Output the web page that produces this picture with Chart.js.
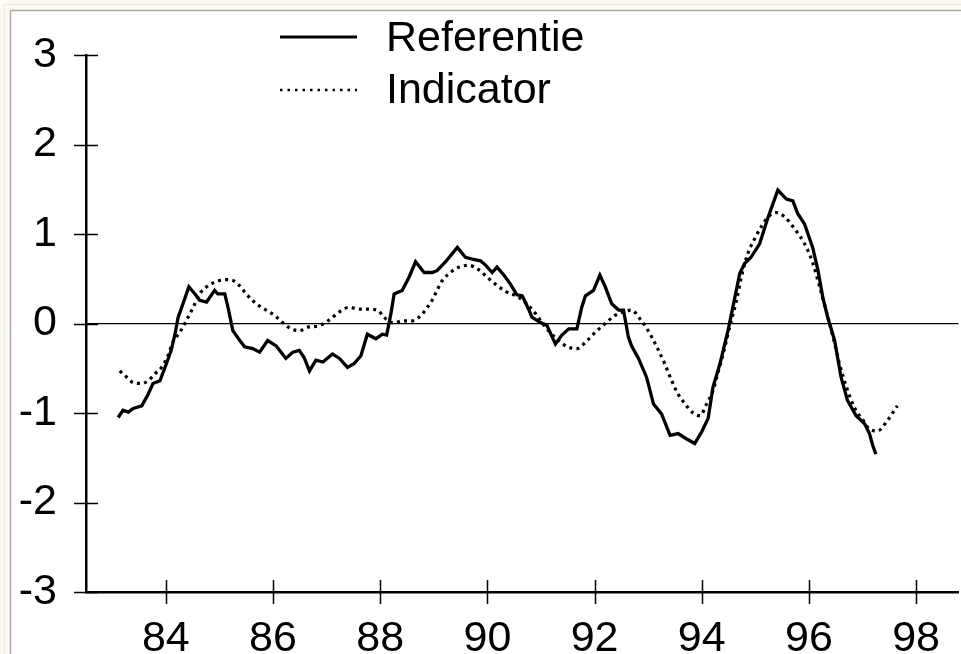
<!DOCTYPE html>
<html>
<head>
<meta charset="utf-8">
<script src="https://cdn.jsdelivr.net/npm/chart.js@4.4.1/dist/chart.umd.min.js"></script>
<style>
    html, body { margin: 0; padding: 0; background: #fff; }
    #wrap { width: 961px; height: 654px; }
</style>
</head>
<body>
<div id="wrap"><canvas id="chart" width="961" height="654"></canvas></div>
<script>
// Referentie (jaar, waarde)
const refYears = [83.11, 83.20, 83.30, 83.39, 83.55, 83.67, 83.76, 83.89, 84.01, 84.10, 84.17, 84.23, 84.32, 84.43, 84.57, 84.63, 84.76, 84.91, 84.97, 85.10,
    85.16, 85.25, 85.38, 85.47, 85.62, 85.75, 85.90, 86.06, 86.24, 86.37, 86.49, 86.58, 86.68, 86.80, 86.93, 87.11, 87.24, 87.39, 87.51, 87.64,
    87.76, 87.92, 88.04, 88.12, 88.20, 88.26, 88.41, 88.54, 88.66, 88.82, 88.97, 89.06, 89.22, 89.44, 89.59, 89.72, 89.87, 89.97, 90.09, 90.18,
    90.31, 90.43, 90.55, 90.65, 90.77, 90.83, 90.99, 91.11, 91.27, 91.39, 91.52, 91.67, 91.76, 91.83, 91.98, 92.10, 92.20, 92.32, 92.45, 92.54,
    92.63, 92.69, 92.82, 92.97, 93.10, 93.25, 93.41, 93.56, 93.72, 93.87, 94.00, 94.12, 94.21, 94.34, 94.49, 94.58, 94.71, 94.80, 94.92, 95.08,
    95.24, 95.33, 95.42, 95.58, 95.70, 95.79, 95.92, 96.07, 96.17, 96.26, 96.35, 96.48, 96.60, 96.72, 96.88, 97.04, 97.13, 97.19, 97.25];
const refValues = [-1.05, -0.97, -0.99, -0.95, -0.92, -0.79, -0.67, -0.64, -0.45, -0.30, -0.12, 0.07, 0.22, 0.41, 0.31, 0.26, 0.24, 0.37, 0.33, 0.33,
    0.18, -0.08, -0.19, -0.26, -0.28, -0.32, -0.19, -0.25, -0.39, -0.32, -0.30, -0.38, -0.53, -0.41, -0.43, -0.34, -0.39, -0.49, -0.45, -0.36,
    -0.12, -0.17, -0.12, -0.13, 0.11, 0.33, 0.37, 0.52, 0.69, 0.57, 0.57, 0.59, 0.69, 0.85, 0.74, 0.72, 0.70, 0.65, 0.57, 0.63,
    0.54, 0.44, 0.32, 0.31, 0.16, 0.07, 0.01, -0.02, -0.23, -0.13, -0.06, -0.06, 0.18, 0.31, 0.37, 0.54, 0.41, 0.22, 0.15, 0.15,
    -0.15, -0.25, -0.39, -0.60, -0.90, -1.01, -1.25, -1.23, -1.29, -1.34, -1.21, -1.06, -0.71, -0.45, -0.08, 0.18, 0.56, 0.67, 0.74, 0.89,
    1.19, 1.34, 1.49, 1.39, 1.37, 1.23, 1.11, 0.85, 0.59, 0.29, 0.07, -0.19, -0.60, -0.86, -1.03, -1.12, -1.23, -1.36, -1.46];

// Indicator (jaar, waarde)
const indYears = [83.14, 83.27, 83.39, 83.55, 83.67, 83.80, 83.92, 84.04, 84.13, 84.26, 84.38, 84.51, 84.63, 84.76, 84.91, 85.10, 85.25, 85.38, 85.50, 85.69,
    85.87, 86.03, 86.18, 86.34, 86.49, 86.65, 86.83, 87.05, 87.24, 87.42, 87.61, 87.79, 87.95, 88.07, 88.23, 88.45, 88.60, 88.76, 88.88, 88.97,
    89.06, 89.16, 89.31, 89.47, 89.65, 89.84, 89.99, 90.15, 90.34, 90.59, 90.77, 90.90, 91.02, 91.14, 91.33, 91.49, 91.67, 91.83, 92.01, 92.20,
    92.38, 92.54, 92.69, 92.85, 93.00, 93.16, 93.31, 93.44, 93.56, 93.69, 93.84, 93.97, 94.09, 94.21, 94.28, 94.40, 94.52, 94.65, 94.74, 94.86,
    94.99, 95.11, 95.24, 95.38, 95.55, 95.73, 95.92, 96.07, 96.20, 96.32, 96.45, 96.57, 96.70, 96.85, 97.01, 97.13, 97.28, 97.47, 97.65];
const indValues = [-0.53, -0.60, -0.66, -0.67, -0.64, -0.56, -0.49, -0.36, -0.21, -0.10, 0.03, 0.18, 0.33, 0.41, 0.46, 0.49, 0.48, 0.42, 0.33, 0.22,
    0.15, 0.09, 0.01, -0.06, -0.08, -0.04, -0.03, 0.04, 0.13, 0.18, 0.16, 0.16, 0.15, 0.07, 0.01, 0.03, 0.03, 0.09, 0.18, 0.26,
    0.37, 0.48, 0.57, 0.63, 0.65, 0.60, 0.52, 0.44, 0.36, 0.29, 0.20, 0.11, 0.01, -0.08, -0.19, -0.26, -0.28, -0.21, -0.10, 0.00,
    0.09, 0.13, 0.15, 0.05, -0.08, -0.26, -0.45, -0.64, -0.79, -0.90, -1.00, -1.03, -0.90, -0.75, -0.60, -0.34, -0.04, 0.26, 0.52, 0.78,
    0.95, 1.08, 1.19, 1.24, 1.19, 1.06, 0.89, 0.68, 0.41, 0.15, -0.15, -0.45, -0.71, -0.94, -1.08, -1.18, -1.20, -1.08, -0.92];

const xTicks = [84, 86, 88, 90, 92, 94, 96, 98];
const yTicks = [-3, -2, -1, 0, 1, 2, 3];
const seriesNames = ['Referentie', 'Indicator'];

const FONT = '"Liberation Sans", Arial, Helvetica, sans-serif';

function toPoints(xs, ys) {
    return xs.map(function(x, i) { return { x: x, y: ys[i] }; });
}

// frame, tick marks and legend
const extras = {
    id: 'extras',
    beforeDraw: function(chart) {
        const ctx = chart.ctx;
        ctx.save();
        ctx.fillStyle = '#fbfaf5';
        ctx.fillRect(0, 0, chart.width, chart.height);
        ctx.fillStyle = '#ffffff';
        ctx.fillRect(11, 11, chart.width - 11, chart.height - 11);
        ctx.strokeStyle = '#efe8d3';
        ctx.lineWidth = 1;
        ctx.beginPath();
        ctx.moveTo(4.5, 4.5); ctx.lineTo(4.5, chart.height);
        ctx.moveTo(4.5, 4.5); ctx.lineTo(chart.width, 4.5);
        ctx.stroke();
        ctx.strokeStyle = '#aca89c';
        ctx.lineWidth = 1.5;
        ctx.beginPath();
        ctx.moveTo(10.5, 10.5); ctx.lineTo(10.5, chart.height);
        ctx.moveTo(10.5, 10.5); ctx.lineTo(chart.width, 10.5);
        ctx.stroke();
        ctx.restore();
    },
    afterDraw: function(chart) {
        const ctx = chart.ctx;
        const xs = chart.scales.x;
        const ys = chart.scales.y;
        const ax = xs.left;
        const ay = ys.bottom;
        ctx.save();
        ctx.strokeStyle = '#000';
        ctx.lineWidth = 1.5;
        ctx.beginPath();
        yTicks.forEach(function(v) {
            const py = Math.round(ys.getPixelForValue(v)) + 0.5;
            ctx.moveTo(ax - 12, py);
            ctx.lineTo(ax + 12, py);
        });
        xTicks.forEach(function(v) {
            const px = Math.round(xs.getPixelForValue(v)) + 0.5;
            ctx.moveTo(px, ay - 12);
            ctx.lineTo(px, ay + 12);
        });
        ctx.stroke();

        // legend
        ctx.font = '43px ' + FONT;
        ctx.fillStyle = '#000';
        ctx.textBaseline = 'alphabetic';
        ctx.textAlign = 'left';
        ctx.lineWidth = 3;
        ctx.beginPath();
        ctx.moveTo(280, 37);
        ctx.lineTo(357, 37);
        ctx.stroke();
        ctx.fillText(seriesNames[0], 386, 51);

        ctx.lineWidth = 2.5;
        ctx.setLineDash([2.5, 5]);
        ctx.beginPath();
        ctx.moveTo(280, 90);
        ctx.lineTo(357, 90);
        ctx.stroke();
        ctx.setLineDash([]);
        ctx.fillText(seriesNames[1], 386, 103);
        ctx.restore();
    }
};

document.addEventListener('DOMContentLoaded', function() {
    const ctx = document.getElementById('chart').getContext('2d');
    new Chart(ctx, {
        type: 'line',
        data: {
            datasets: [{
                label: seriesNames[0],
                data: toPoints(refYears, refValues),
                borderColor: '#000',
                borderWidth: 3.3,
                pointRadius: 0,
                tension: 0,
                fill: false
            }, {
                label: seriesNames[1],
                data: toPoints(indYears, indValues),
                borderColor: '#000',
                borderWidth: 3.2,
                borderDash: [3, 4.2],
                pointRadius: 0,
                cubicInterpolationMode: 'monotone',
                fill: false
            }]
        },
        options: {
            responsive: false,
            animation: false,
            devicePixelRatio: 1,
            layout: {
                padding: { left: 0, top: 55, right: 0, bottom: 0 }
            },
            plugins: {
                legend: { display: false },
                tooltip: { enabled: false }
            },
            scales: {
                x: {
                    type: 'linear',
                    min: 82.51,
                    max: 98.79,
                    afterBuildTicks: function(scale) {
                        scale.ticks = xTicks.map(function(v) { return { value: v }; });
                    },
                    afterFit: function(scale) { scale.height = 62; },
                    grid: { display: false, drawTicks: false },
                    border: { display: true, color: '#000', width: 2.5 },
                    ticks: {
                        color: '#000',
                        padding: 21,
                        maxRotation: 0,
                        autoSkip: false,
                        font: { family: FONT, size: 43 },
                        callback: function(v) { return String(v); }
                    }
                },
                y: {
                    min: -3,
                    max: 3,
                    afterBuildTicks: function(scale) {
                        scale.ticks = yTicks.map(function(v) { return { value: v }; });
                    },
                    afterFit: function(scale) { scale.width = 86; },
                    grid: {
                        drawTicks: false,
                        lineWidth: 1.2,
                        color: function(c) { return c.tick && c.tick.value === 0 ? '#000' : 'rgba(0,0,0,0)'; }
                    },
                    border: { display: true, color: '#000', width: 2.5 },
                    ticks: {
                        color: '#000',
                        padding: 29,
                        font: { family: FONT, size: 43 },
                        callback: function(v) { return String(v); }
                    }
                }
            }
        },
        plugins: [extras]
    });
});
</script>
</body>
</html>
